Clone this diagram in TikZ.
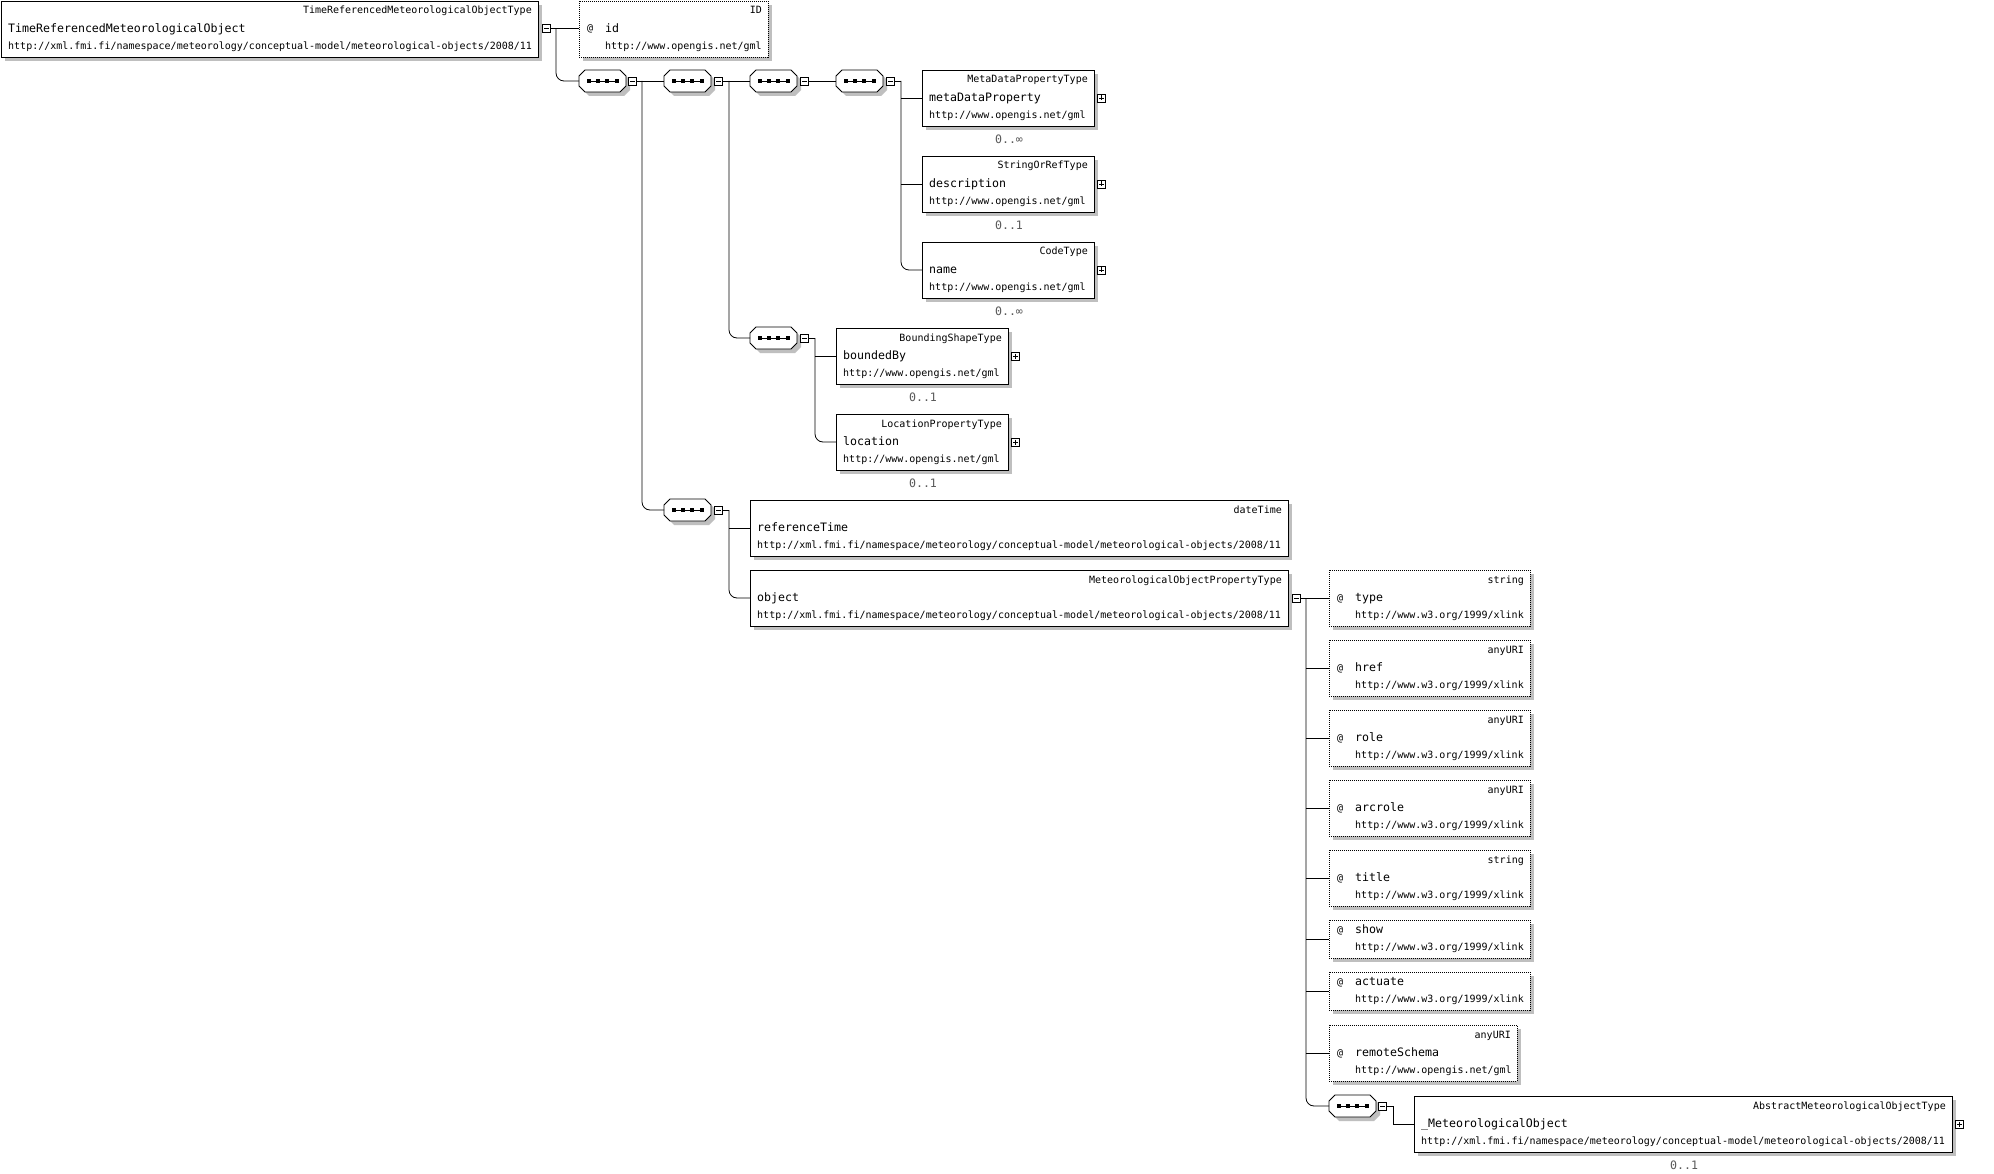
\documentclass[tikz,border=0pt]{standalone}
\usepackage{fontspec}
\setmonofont{DejaVu Sans Mono}
\usetikzlibrary{shadows,calc}
\tikzset{
  x=1pt,y=-1pt,
  conn/.style={line width=0.8pt, draw=black},
  boxshadow/.style={general shadow={fill=black!25, shadow xshift=4pt, shadow yshift=-4pt}},
  ebox/.style={draw, line width=0.9pt, fill=white, rectangle, inner sep=0pt, outer sep=0pt, anchor=north west, minimum height=56pt, boxshadow},
  abox/.style={ebox, dash pattern=on 1pt off 1pt},
  sbox/.style={abox, minimum height=38pt},
  typetxt/.style={font=\ttfamily\fontsize{10}{12}\selectfont, inner sep=0pt, text height=7pt, text depth=2pt},
  nametxt/.style={font=\ttfamily\fontsize{11.6}{14}\selectfont, inner sep=0pt, text height=8pt, text depth=2.5pt},
  urltxt/.style={typetxt},
  multtxt/.style={font=\ttfamily\fontsize{11.6}{14}\selectfont, text=black!65, inner sep=0pt},
  seqanchor/.style={rectangle, inner sep=0pt, outer sep=0pt, minimum width=47pt, minimum height=22pt},
  seqshape/.style={draw, line width=0.9pt, fill=white, boxshadow},
  pmbox/.style={draw, line width=0.7pt, fill=white, rectangle, inner sep=0pt, outer sep=0pt, minimum size=8pt},
}
\newcommand\fmiurl{http://xml.fmi.fi/namespace/meteorology/conceptual-model/meteorological-objects/2008/11}
\newcommand\gmlurl{http://www.opengis.net/gml}
\newcommand\xlurl{http://www.w3.org/1999/xlink}
% element box: name, x, y, width, type, label, url
\newcommand\xsdelem[7]{%
  \node[ebox, minimum width=#4] (#1) at (#2,#3) {};
  \node[typetxt, anchor=east] (#1-t) at ($(#1.north east)+(-6,10.5)$) {#5};
  \node[nametxt, anchor=west] (#1-n) at ($(#1.north west)+(7,28.5)$) {#6};
  \node[urltxt, anchor=west] (#1-u) at ($(#1.north west)+(7,46)$) {#7};
}
% attribute box with type: name, x, y, width, type, label, url
\newcommand\xsdattr[7]{%
  \node[abox, minimum width=#4] (#1) at (#2,#3) {};
  \node[typetxt, anchor=east] (#1-t) at ($(#1.north east)+(-6,10.5)$) {#5};
  \node[typetxt, anchor=west] (#1-a) at ($(#1.north west)+(8,28.5)$) {@};
  \node[nametxt, anchor=west] (#1-n) at ($(#1.north west)+(26,28.5)$) {#6};
  \node[urltxt, anchor=west] (#1-u) at ($(#1.north west)+(26,46)$) {#7};
}
% attribute box without type: name, x, y, width, label, url
\newcommand\xsdattrs[6]{%
  \node[sbox, minimum width=#4] (#1) at (#2,#3) {};
  \node[typetxt, anchor=west] (#1-a) at ($(#1.north west)+(8,11)$) {@};
  \node[nametxt, anchor=west] (#1-n) at ($(#1.north west)+(26,11)$) {#5};
  \node[urltxt, anchor=west] (#1-u) at ($(#1.north west)+(26,28)$) {#6};
}
% sequence compositor: name, cx, cy
\newcommand\xsdseq[3]{%
  \node[seqanchor] (#1) at (#2,#3) {};
  \begin{scope}[shift={(#2,#3)}]
    \draw[seqshape] (-17.5,-11) -- (17.5,-11) -- (23.5,-5) -- (23.5,5) -- (17.5,11) -- (-17.5,11) -- (-23.5,5) -- (-23.5,-5) -- cycle;
    \draw[line width=0.8pt] (-14,0) -- (14,0);
    \foreach \d in {-14,-4.7,4.7,14} \fill (\d-2,-2) rectangle (\d+2,2);
  \end{scope}
}
\newcommand\xsdminus[3]{%
  \node[pmbox] (#1) at (#2,#3) {};
  \draw[line width=0.7pt] ($(#1.center)+(-2.5,0)$) -- ($(#1.center)+(2.5,0)$);
}
\newcommand\xsdplus[3]{%
  \node[pmbox] (#1) at (#2,#3) {};
  \draw[line width=0.7pt] ($(#1.center)+(-2.5,0)$) -- ($(#1.center)+(2.5,0)$);
  \draw[line width=0.7pt] ($(#1.center)+(0,-2.5)$) -- ($(#1.center)+(0,2.5)$);
}
\begin{document}
\begin{tikzpicture}
\useasboundingbox (0,0) rectangle (1994,1174);
\fill[white] (0,0) rectangle (1994,1174);

% root
\xsdelem{root}{1}{1}{537}{TimeReferencedMeteorologicalObjectType}{TimeReferencedMeteorologicalObject}{\fmiurl}
\xsdminus{m0}{546.5}{28.5}
\xsdattr{idattr}{579}{1}{189}{ID}{id}{\gmlurl}
\coordinate (j0) at (556,28.5);

% sequences top row
\xsdseq{s1}{602.5}{81}
\xsdminus{ms1}{632.5}{81}
\coordinate (j1) at (642,81);
\xsdseq{s2}{687.5}{81}
\xsdminus{ms2}{718.5}{81}
\coordinate (j2) at (729,81);
\xsdseq{s3}{773.5}{81}
\xsdminus{ms3}{804.5}{81}
\xsdseq{s4}{859.5}{81}
\xsdminus{ms4}{890.5}{81}
\coordinate (j4) at (901,81);

% gml elements
\xsdelem{mdp}{922}{70}{172}{MetaDataPropertyType}{metaDataProperty}{\gmlurl}
\xsdplus{pmdp}{1101.5}{98}
\node[multtxt] (mmdp) at (1009,139) {0..∞};
\xsdelem{desc}{922}{156}{172}{StringOrRefType}{description}{\gmlurl}
\xsdplus{pdesc}{1101.5}{184}
\node[multtxt] (mdesc) at (1009,225) {0..1};
\xsdelem{nm}{922}{242}{172}{CodeType}{name}{\gmlurl}
\xsdplus{pnm}{1101.5}{270}
\node[multtxt] (mnm) at (1009,311) {0..∞};

% bounding sequence
\xsdseq{s6}{773.5}{338}
\xsdminus{ms6}{804.5}{338}
\coordinate (j6) at (815,338);
\xsdelem{bb}{836}{328}{172}{BoundingShapeType}{boundedBy}{\gmlurl}
\xsdplus{pbb}{1015.5}{356}
\node[multtxt] (mbb) at (923,397) {0..1};
\xsdelem{loc}{836}{414}{172}{LocationPropertyType}{location}{\gmlurl}
\xsdplus{ploc}{1015.5}{442}
\node[multtxt] (mloc) at (923,483) {0..1};

% reference time / object
\xsdseq{s5}{687.5}{510}
\xsdminus{ms5}{718.5}{510}
\coordinate (j5) at (729,510);
\xsdelem{rt}{750}{500}{538}{dateTime}{referenceTime}{\fmiurl}
\xsdelem{obj}{750}{570}{538}{MeteorologicalObjectPropertyType}{object}{\fmiurl}
\xsdminus{mobj}{1296.5}{598}
\coordinate (jo) at (1306,598);

% xlink attributes
\xsdattr{atype}{1329}{570}{201}{string}{type}{\xlurl}
\xsdattr{ahref}{1329}{640}{201}{anyURI}{href}{\xlurl}
\xsdattr{arole}{1329}{710}{201}{anyURI}{role}{\xlurl}
\xsdattr{aarc}{1329}{780}{201}{anyURI}{arcrole}{\xlurl}
\xsdattr{atitle}{1329}{850}{201}{string}{title}{\xlurl}
\xsdattrs{ashow}{1329}{920}{201}{show}{\xlurl}
\xsdattrs{aact}{1329}{972}{201}{actuate}{\xlurl}
\xsdattr{arem}{1329}{1025}{188}{anyURI}{remoteSchema}{\gmlurl}

% abstract object
\xsdseq{s7}{1352.5}{1106}
\xsdminus{ms7}{1382.5}{1106}
\coordinate (j7) at (1393,1106);
\xsdelem{mo}{1414}{1096}{538}{AbstractMeteorologicalObjectType}{\_MeteorologicalObject}{\fmiurl}
\xsdplus{pmo}{1959.5}{1124}
\node[multtxt] (mmo) at (1684,1165) {0..1};

% connectors
\draw[conn] (m0.east) -- (m0.east -| idattr.west);
\draw[conn, rounded corners=8pt] (j0) |- (s1.west);
\draw[conn] (ms1.east) -- (s2.west);
\draw[conn, rounded corners=8pt] (j1) |- (s5.west);
\draw[conn] (ms2.east) -- (s3.west);
\draw[conn, rounded corners=8pt] (j2) |- (s6.west);
\draw[conn] (ms3.east) -- (s4.west);
\draw[conn] (ms4.east) -- (j4);
\draw[conn, rounded corners=8pt] (j4) |- (nm.west);
\draw[conn] (j4 |- mdp.west) -- (mdp.west);
\draw[conn] (j4 |- desc.west) -- (desc.west);
\draw[conn] (ms6.east) -- (j6);
\draw[conn, rounded corners=8pt] (j6) |- (loc.west);
\draw[conn] (j6 |- bb.west) -- (bb.west);
\draw[conn] (ms5.east) -- (j5);
\draw[conn, rounded corners=8pt] (j5) |- (obj.west);
\draw[conn] (j5 |- rt.west) -- (rt.west);
\draw[conn] (mobj.east) -- (mobj.east -| atype.west);
\draw[conn, rounded corners=8pt] (jo) |- (s7.west);
\draw[conn] (jo |- ahref.west) -- (ahref.west);
\draw[conn] (jo |- arole.west) -- (arole.west);
\draw[conn] (jo |- aarc.west) -- (aarc.west);
\draw[conn] (jo |- atitle.west) -- (atitle.west);
\draw[conn] (jo |- ashow.west) -- (ashow.west);
\draw[conn] (jo |- aact.west) -- (aact.west);
\draw[conn] (jo |- arem.west) -- (arem.west);
\draw[conn] (ms7.east) -- (j7) |- (mo.west);
\end{tikzpicture}
\end{document}
